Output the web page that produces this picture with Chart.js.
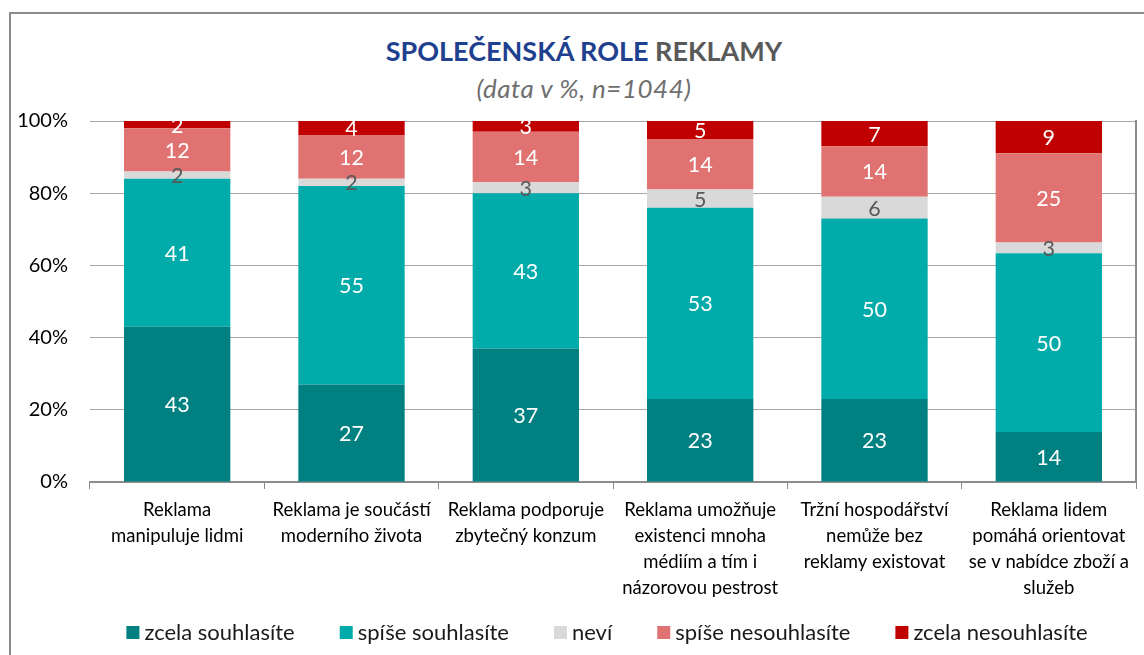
<!DOCTYPE html>
<html lang="cs">
<head>
    <meta charset="UTF-8">
    <title>Společenská role reklamy</title>
    <style>
        body { margin: 0; background: #fff; font-family: Lato, sans-serif; }
        #wrap { position: relative; width: 1144px; height: 655px; overflow: hidden; }
        #frame { position: absolute; left: 9px; top: 12px; width: 1200px; height: 700px; border: 2px solid #8c8c8c; }
        #title { position: absolute; left: 24px; top: 34px; width: 1120px; text-align: center; font-weight: 700; font-size: 27px; }
        #title .blue { color: #1f3f8f; }
        #title .gray { color: #595959; }
        #subtitle { position: absolute; left: 24px; top: 72px; width: 1120px; text-align: center; font-style: italic; font-size: 26px; letter-spacing: 0.5px; color: #6f6f6f; }
        #chartBox { position: absolute; left: 0; top: 0; width: 1144px; height: 655px; }
    </style>
    <script src="https://cdn.jsdelivr.net/npm/chart.js"></script>
</head>
<body>
<div id="wrap">
    <div id="frame"></div>
    <div id="title"><span class="blue">SPOLEČENSKÁ ROLE</span> <span class="gray">REKLAMY</span></div>
    <div id="subtitle">(data v %, n=1044)</div>
    <div id="chartBox"><canvas id="c"></canvas></div>
</div>
<script>
    // kategorie (řádky popisků na ose X)
    const categories = [
        ['Reklama', 'manipuluje lidmi'],
        ['Reklama je součástí', 'moderního života'],
        ['Reklama podporuje', 'zbytečný konzum'],
        ['Reklama umožňuje', 'existenci mnoha', 'médiím a tím i', 'názorovou pestrost'],
        ['Tržní hospodářství', 'nemůže bez', 'reklamy existovat'],
        ['Reklama lidem', 'pomáhá orientovat', 'se v nabídce zboží a', 'služeb']
    ];

    const seriesNames = ['zcela souhlasíte', 'spíše souhlasíte', 'neví', 'spíše nesouhlasíte', 'zcela nesouhlasíte'];
    const seriesColors = ['#008080', '#00aba9', '#d9d9d9', '#e07372', '#c00000'];
    const labelColors = ['#ffffff', '#ffffff', '#595959', '#ffffff', '#ffffff'];

    const zcelaSouhlasite = [43, 27, 37, 23, 23, 14];
    const spiseSouhlasite = [41, 55, 43, 53, 50, 50];
    const nevi = [2, 2, 3, 5, 6, 3];
    const spiseNesouhlasite = [12, 12, 14, 14, 14, 25];
    const zcelaNesouhlasite = [2, 4, 3, 5, 7, 9];

    const yTicks = [0, 20, 40, 60, 80, 100];

    const series = [zcelaSouhlasite, spiseSouhlasite, nevi, spiseNesouhlasite, zcelaNesouhlasite];

    // 100% skládaný graf - přepočet na podíl
    const totals = categories.map((_, i) => series.reduce((s, arr) => s + arr[i], 0));

    const datasets = series.map((arr, k) => ({
        label: seriesNames[k],
        data: arr.map((v, i) => v / totals[i] * 100),
        raw: arr,
        backgroundColor: seriesColors[k],
        borderWidth: 0,
        categoryPercentage: 1.0,
        barPercentage: 0.61
    }));

    // popisky hodnot uvnitř segmentů
    const valueLabels = {
        id: 'valueLabels',
        afterDatasetsDraw(chart) {
            const ctx = chart.ctx;
            ctx.save();
            ctx.font = '21.5px Lato, sans-serif';
            ctx.textAlign = 'center';
            ctx.textBaseline = 'middle';
            chart.data.datasets.forEach((ds, k) => {
                const meta = chart.getDatasetMeta(k);
                meta.data.forEach((bar, i) => {
                    ctx.fillStyle = labelColors[k];
                    ctx.fillText(String(ds.raw[i]), bar.x, (bar.y + bar.base) / 2 + 1);
                });
            });
            ctx.restore();
        }
    };

    // legenda pod grafem (jako v Excelu - větší mezery mezi položkami)
    const bottomLegend = {
        id: 'bottomLegend',
        afterDraw(chart) {
            const ctx = chart.ctx;
            const box = 13, textGap = 5, itemGap = 45, y = 633;
            ctx.save();
            ctx.font = '22px Lato, sans-serif';
            ctx.textBaseline = 'middle';
            const items = chart.data.datasets.map(ds => ({
                label: ds.label, color: ds.backgroundColor, w: ctx.measureText(ds.label).width
            }));
            const total = items.reduce((s, it) => s + box + textGap + it.w, 0) + itemGap * (items.length - 1);
            let x = 607 - total / 2;
            items.forEach(it => {
                ctx.fillStyle = it.color;
                ctx.fillRect(x, y - 7, box, box);
                ctx.fillStyle = '#1a1a1a';
                ctx.fillText(it.label, x + box + textGap, y);
                x += box + textGap + it.w + itemGap;
            });
            ctx.restore();
        }
    };

    new Chart(document.getElementById('c'), {
        type: 'bar',
        data: { labels: categories, datasets: datasets },
        options: {
            responsive: true,
            maintainAspectRatio: false,
            animation: false,
            layout: { padding: { left: 0, right: 8, top: 121, bottom: 0 } },
            plugins: {
                title: { display: false },
                tooltip: { enabled: false },
                legend: { display: false }
            },
            scales: {
                x: {
                    stacked: true,
                    grid: { offset: true, drawOnChartArea: false, drawTicks: true, tickLength: 7, color: '#8c8c8c' },
                    border: { color: '#8c8c8c', width: 2 },
                    ticks: {
                        autoSkip: false,
                        maxRotation: 0,
                        padding: 8,
                        color: '#000',
                        font: { family: 'Lato, sans-serif', size: 18.5, lineHeight: 1.41 }
                    },
                    afterFit(scale) { scale.height = 173; }
                },
                y: {
                    stacked: true,
                    min: 0,
                    max: 100,
                    afterBuildTicks(scale) { scale.ticks = yTicks.map(v => ({ value: v })); },
                    grid: { color: '#a6a6a6', borderDash: [2, 2], drawTicks: false, lineWidth: 1 },
                    border: { display: false },
                    ticks: {
                        padding: 22,
                        color: '#000',
                        font: { family: 'Lato, sans-serif', size: 20 },
                        callback: v => v + '%'
                    },
                    afterFit(scale) { scale.width = 90; }
                },
                yRight: {
                    position: 'right',
                    grid: { drawOnChartArea: false, drawTicks: false },
                    ticks: { display: false },
                    border: { color: '#8c8c8c', width: 2 },
                    afterFit(scale) { scale.width = 0; }
                }
            }
        },
        plugins: [valueLabels, bottomLegend]
    });
</script>
</body>
</html>
